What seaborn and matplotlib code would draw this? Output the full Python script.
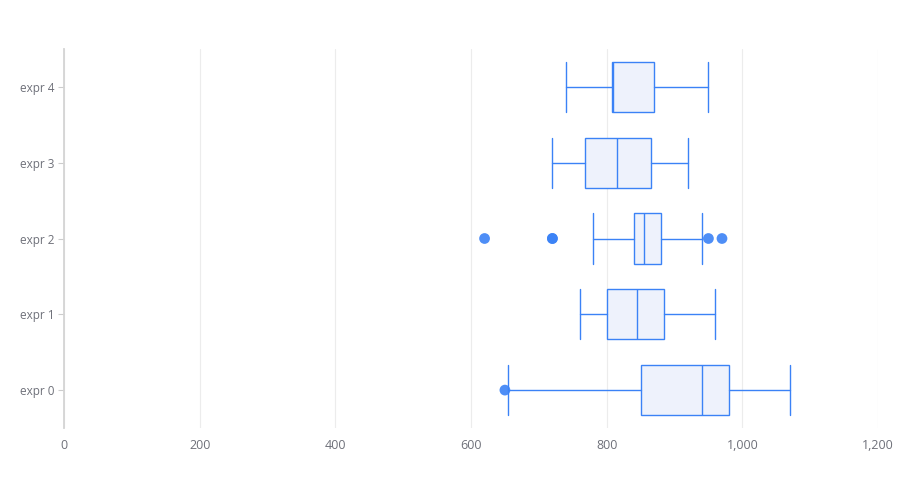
import matplotlib
matplotlib.use("Agg")
import matplotlib.pyplot as plt
import seaborn as sns
import pandas as pd
from matplotlib.ticker import FuncFormatter

# box statistics (low whisker, Q1, median, Q3, high whisker)
categories = ["expr 0", "expr 1", "expr 2", "expr 3", "expr 4"]
whisker_low = [655, 760, 780, 720, 740]
q1 = [850, 800, 840, 767.5, 807.5]
median = [940, 845, 855, 815, 810]
q3 = [980, 885, 880, 865, 870]
whisker_high = [1070, 960, 940, 920, 950]

# outliers
outlier_cat = ["expr 0", "expr 2", "expr 2", "expr 2", "expr 2", "expr 2"]
outlier_val = [650, 620, 720, 720, 950, 970]

LINE = "#3b82f6"
FILL = "#eef2fc"
GRAY = "#6e7079"

sns.set_theme(style="white")
plt.rcParams["font.family"] = ["Open Sans", "DejaVu Sans"]

fig = plt.figure(figsize=(8.98, 4.98), dpi=100)
ax = fig.add_axes([64 / 898, 1 - 428 / 498, 814 / 898, 379 / 498])

stats = []
for i, c in enumerate(categories):
    stats.append({
        "label": c,
        "whislo": whisker_low[i],
        "q1": q1[i],
        "med": median[i],
        "q3": q3[i],
        "whishi": whisker_high[i],
        "fliers": [],
    })

ax.bxp(stats, positions=range(len(categories)), vert=False, widths=0.66,
       patch_artist=True, showfliers=False, capwidths=0.66,
       boxprops=dict(facecolor=FILL, edgecolor=LINE, linewidth=1.0),
       medianprops=dict(color=LINE, linewidth=1.0),
       whiskerprops=dict(color=LINE, linewidth=1.0),
       capprops=dict(color=LINE, linewidth=1.0), zorder=3)

out_df = pd.DataFrame({"cat": outlier_cat, "val": outlier_val})
out_df["pos"] = out_df["cat"].map({c: i for i, c in enumerate(categories)})
sns.scatterplot(data=out_df, x="val", y="pos", ax=ax, color=LINE, s=60,
                edgecolor="none", alpha=0.9, zorder=4)

ax.set_xlim(0, 1200)
ax.set_ylim(-0.5, len(categories) - 0.5)
ax.set_xticks(range(0, 1201, 200))
ax.xaxis.set_major_formatter(FuncFormatter(lambda v, p: f"{int(v):,}"))
ax.set_yticks(range(len(categories)))
ax.set_yticklabels(categories)
ax.set_xlabel("")
ax.set_ylabel("")

ax.grid(axis="x", color="#ececec", linewidth=0.8, zorder=0)
ax.grid(axis="y", visible=False)
for s in ["top", "right", "bottom"]:
    ax.spines[s].set_visible(False)
ax.spines["left"].set_color("#d4d4d4")
ax.spines["left"].set_linewidth(1.3)

ax.tick_params(axis="x", length=0, pad=8, labelsize=9, labelcolor=GRAY)
ax.tick_params(axis="y", length=4, width=0.8, color="#cccccc", pad=3,
               labelsize=8.5, labelcolor=GRAY, left=True)

fig.savefig("out.png", dpi=100)
